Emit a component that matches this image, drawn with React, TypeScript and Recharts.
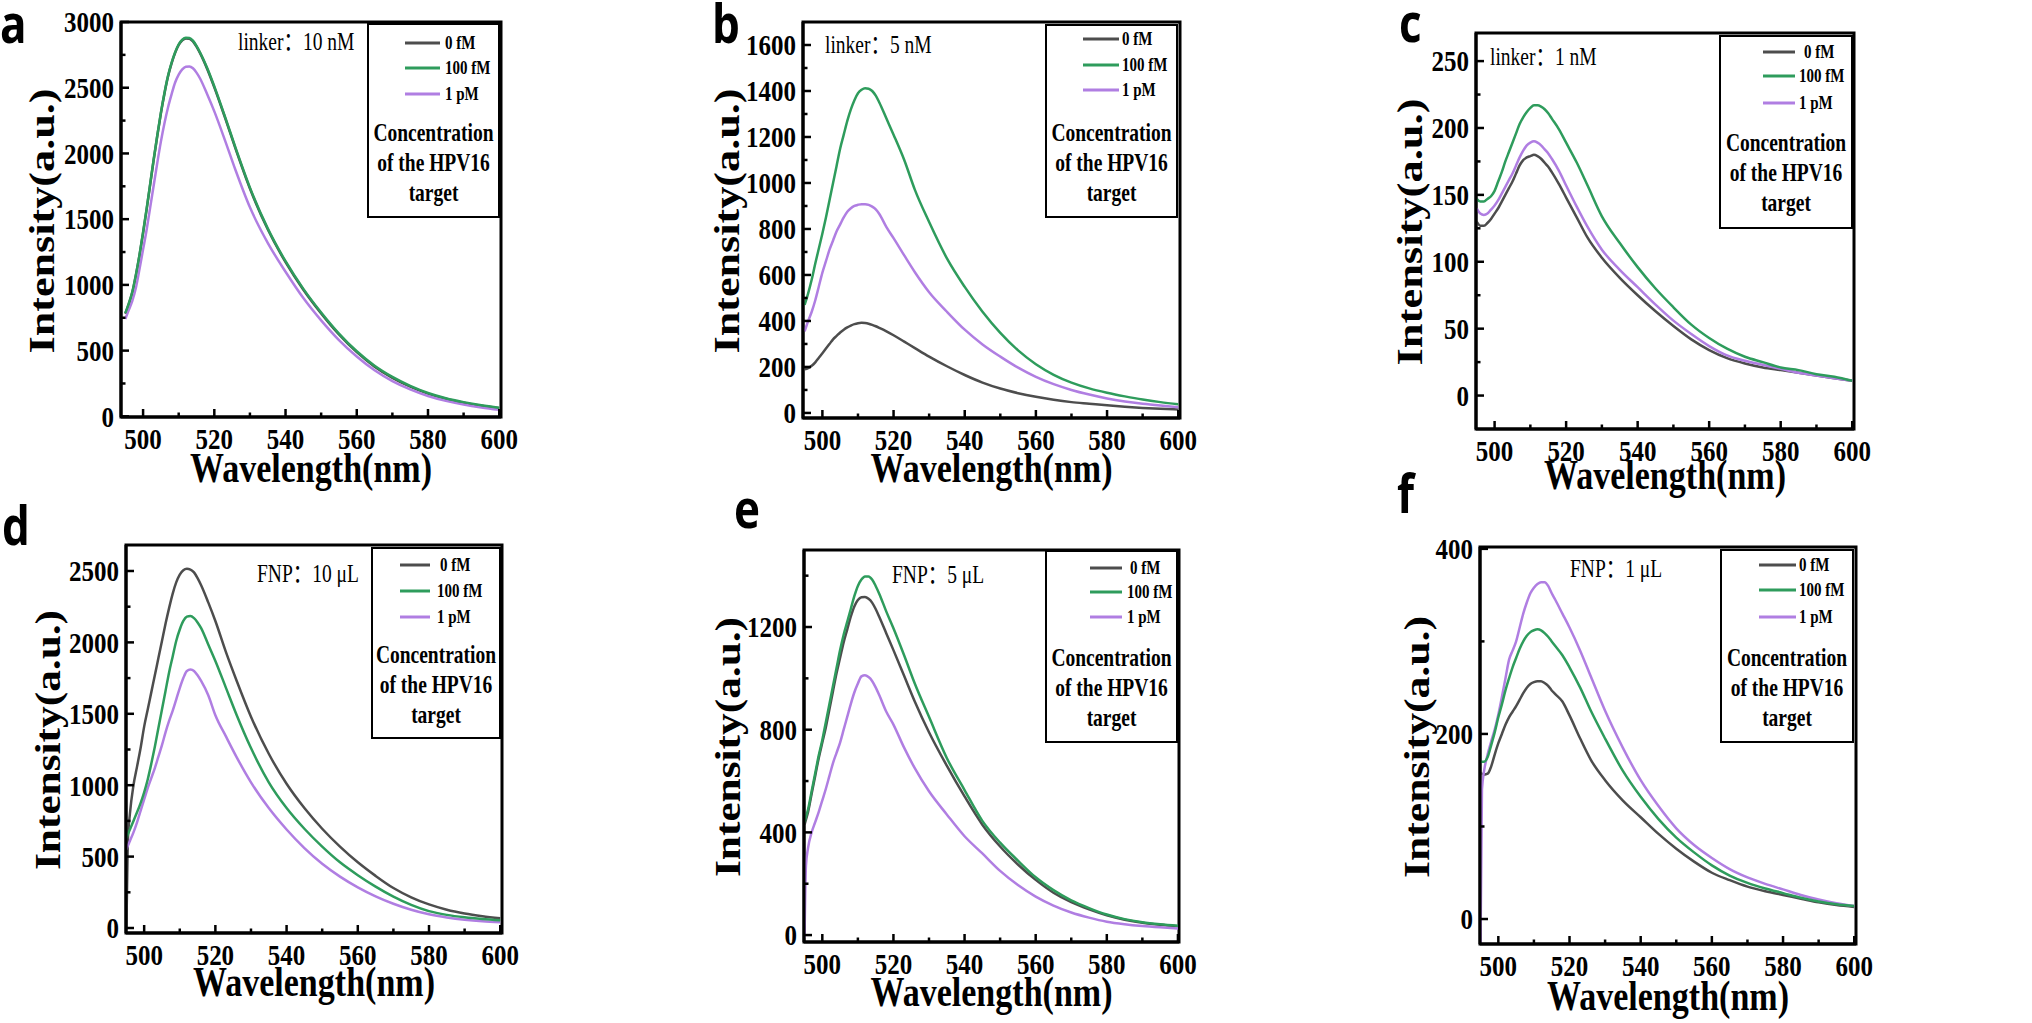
import React from "react";
import { LineChart, Line, XAxis, YAxis, ReferenceArea } from "recharts";

// wavelengths (nm) of the linker series, panels a-c
const WL = [
  495, 496, 497, 498, 499, 500, 501, 502, 503, 504, 505, 506, 507, 508, 509, 510, 511, 512, 513, 514, 515, 516,
  518, 520, 523, 526, 530, 535, 540, 545, 550, 555, 560, 565, 570, 575, 580, 585, 590, 595, 600,
];
// wavelengths of the FNP series, panels d-f (extra point at the filter edge)
const WL_FNP = [
  495, 495.4, 496, 497, 498, 499, 500, 501, 502, 503, 504, 505, 506, 507, 508, 509, 510, 511, 512, 513, 514, 515, 516,
  518, 520, 523, 526, 530, 535, 540, 545, 550, 555, 560, 565, 570, 575, 580, 585, 590, 595, 600,
];

const SERIES_NAMES = ["0 fM", "100 fM", "1 pM"];
const COLORS = ["#4d4d4d", "#2e9c5c", "#b07ee2"];

// a: linker 10 nM
const A_0FM = [780, 855, 945, 1075, 1225, 1395, 1575, 1765, 1955, 2135, 2305, 2455, 2585, 2685, 2765, 2825, 2860, 2875, 2873, 2853, 2813, 2763, 2643, 2503, 2273, 2033, 1733, 1423, 1173, 963, 783, 623, 488, 378, 293, 226, 173, 134, 104, 80, 62];
const A_100FM = [785, 860, 950, 1080, 1230, 1400, 1580, 1770, 1960, 2140, 2310, 2460, 2590, 2690, 2770, 2830, 2865, 2880, 2878, 2858, 2818, 2768, 2650, 2510, 2280, 2040, 1740, 1430, 1180, 970, 790, 630, 495, 385, 300, 232, 178, 138, 108, 84, 65];
const A_1PM = [740, 810, 880, 980, 1120, 1270, 1420, 1590, 1760, 1930, 2090, 2230, 2350, 2450, 2540, 2600, 2640, 2660, 2662, 2648, 2615, 2570, 2450, 2320, 2100, 1870, 1590, 1320, 1100, 900, 730, 580, 455, 350, 268, 205, 155, 118, 90, 68, 50];

// b: linker 5 nM
const B_0FM = [190, 195, 205, 220, 240, 260, 280, 300, 320, 335, 350, 362, 372, 380, 386, 390, 392, 391, 388, 383, 377, 370, 355, 338, 310, 282, 245, 203, 165, 132, 106, 86, 70, 57, 47, 40, 33, 27, 22, 18, 15];
const B_100FM = [470, 520, 580, 650, 715, 780, 850, 925, 1000, 1075, 1150, 1210, 1270, 1320, 1360, 1390, 1405, 1412, 1410, 1400, 1380, 1350, 1280, 1210, 1100, 970, 830, 672, 548, 440, 348, 272, 212, 166, 132, 107, 88, 72, 58, 47, 38];
const B_1PM = [355, 400, 440, 490, 550, 610, 660, 710, 750, 790, 820, 850, 875, 890, 900, 905, 908, 908, 905, 897, 885, 865, 808, 760, 685, 612, 525, 440, 362, 298, 245, 197, 157, 125, 100, 80, 63, 50, 40, 32, 25];

// c: linker 1 nM
const C_0FM = [130, 127, 127, 129, 132, 136, 140, 145, 150, 155, 160, 166, 172, 176, 178, 179, 180, 179, 177, 174, 171, 167, 158, 148, 133, 118, 103, 88, 75, 63, 52, 42, 34, 28, 24, 21, 19, 17, 15, 13, 11];
const C_100FM = [147, 145, 145, 147, 149, 153, 160, 167, 175, 182, 189, 196, 203, 208, 212, 215, 217, 217, 216, 214, 211, 207, 199, 189, 174, 157, 134, 114, 96, 80, 66, 53, 43, 35, 29, 25, 21, 19, 16, 14, 11];
const C_1PM = [140, 136, 135, 136, 139, 142, 146, 151, 156, 161, 166, 172, 178, 183, 187, 189, 190, 189, 187, 184, 181, 177, 168, 157, 141, 126, 109, 94, 81, 68, 56, 46, 37, 30, 26, 23, 20, 17, 15, 13, 11];

// d: FNP 10 uL
const D_0FM = [-10, 600, 800, 1000, 1130, 1260, 1410, 1530, 1650, 1770, 1890, 2010, 2130, 2240, 2340, 2420, 2475, 2505, 2515, 2510, 2490, 2450, 2400, 2280, 2150, 1930, 1730, 1480, 1220, 1010, 840, 695, 570, 460, 365, 280, 215, 165, 128, 102, 83, 68];
const D_100FM = [630, 655, 690, 750, 810, 875, 950, 1040, 1150, 1270, 1400, 1530, 1660, 1790, 1900, 2010, 2090, 2150, 2180, 2185, 2170, 2140, 2100, 1985, 1870, 1680, 1490, 1260, 1020, 840, 695, 570, 460, 370, 290, 220, 162, 118, 92, 75, 63, 54];
const D_1PM = [550, 575, 610, 670, 740, 820, 900, 980, 1050, 1120, 1200, 1280, 1370, 1450, 1520, 1600, 1680, 1750, 1800, 1810, 1800, 1770, 1730, 1630, 1490, 1340, 1195, 1020, 840, 690, 560, 450, 360, 285, 222, 170, 128, 96, 74, 58, 47, 40];

// e: FNP 5 uL
const E_0FM = [430, 450, 480, 550, 620, 690, 750, 810, 880, 950, 1020, 1080, 1140, 1190, 1240, 1280, 1305, 1316, 1317, 1310, 1295, 1270, 1240, 1175, 1110, 1010, 910, 790, 660, 540, 430, 345, 275, 215, 165, 128, 100, 77, 60, 48, 40, 34];
const E_100FM = [440, 460, 490, 560, 630, 700, 760, 830, 900, 970, 1040, 1110, 1170, 1220, 1270, 1320, 1360, 1385, 1397, 1397, 1385, 1360, 1330, 1260, 1195, 1090, 980, 850, 690, 565, 445, 360, 290, 225, 175, 135, 105, 80, 62, 50, 42, 36];
const E_1PM = [-10, 270, 340, 400, 440, 480, 525, 570, 620, 670, 710, 750, 800, 850, 900, 945, 980, 1008, 1012, 1005, 990, 965, 935, 870, 820, 730, 650, 560, 470, 385, 318, 250, 195, 150, 115, 88, 68, 52, 42, 35, 30, 26];

// f: FNP 1 uL
const F_0FM = [158, 157, 156, 157, 165, 178, 190, 200, 210, 218, 224, 230, 237, 244, 250, 254, 256, 257, 257, 255, 252, 247, 243, 235, 220, 195, 172, 150, 128, 110, 92, 76, 62, 50, 42, 35, 30, 26, 22, 18, 15, 13];
const F_100FM = [170, 170, 170, 175, 188, 202, 218, 232, 247, 260, 272, 282, 292, 300, 306, 310, 312, 313, 312, 309, 305, 300, 295, 285, 272, 250, 225, 195, 160, 132, 108, 88, 72, 58, 47, 39, 33, 28, 23, 19, 16, 14];
const F_1PM = [-25, 140, 160, 178, 192, 205, 221, 240, 260, 280, 290, 300, 315, 330, 342, 352, 358, 362, 364, 364, 360, 352, 345, 330, 315, 290, 262, 225, 185, 150, 122, 98, 80, 66, 54, 45, 38, 32, 26, 21, 17, 14];

const X_MAJOR = [500, 520, 540, 560, 580, 600];
const X_MINOR = [510, 530, 550, 570, 590];

const Y_MAJOR_A = [0, 500, 1000, 1500, 2000, 2500, 3000];
const Y_MAJOR_B = [0, 200, 400, 600, 800, 1000, 1200, 1400, 1600];
const Y_MAJOR_C = [0, 50, 100, 150, 200, 250];
const Y_MAJOR_D = [0, 500, 1000, 1500, 2000, 2500];
const Y_MAJOR_E = [0, 400, 800, 1200];
const Y_MAJOR_F = [0, 200, 400];

const NOTES = ["linker：10 nM", "linker：5 nM", "linker：1 nM", "FNP：10 μL", "FNP：5 μL", "FNP：1 μL"];

const SERIF = "'Liberation Serif','Times New Roman','Noto Sans CJK SC',serif";
const SANS = "'Open Sans','Liberation Sans',sans-serif";

const Y_W = 80;
const X_H = 60;
const M_T = 20;
const M_R = 30;
const TICK_GAP = 7;

type Legend = {
  box: [number, number, number, number];
  rows: number[];
  line: [number, number];
  text: number;
  zeroPad: number;
  conc: number[];
};

type Panel = {
  id: string;
  wl: number[];
  series: number[][];
  note: string;
  yMajor: number[];
  yMinorStep: number;
  plot: [number, number, number, number];
  xDomain: [number, number];
  yDomain: [number, number];
  letter: [number, number];
  notePos: [number, number];
  yLabel: [number, number, number];
  xLabelBase: number;
  legend: Legend;
};

const PANELS: Panel[] = [
  {
    id: "a", wl: WL, series: [A_0FM, A_100FM, A_1PM], note: NOTES[0], yMajor: Y_MAJOR_A, yMinorStep: 250,
    plot: [121, 22, 501, 417], xDomain: [493.8, 600.5], yDomain: [-5, 3000],
    letter: [0, 43], notePos: [238, 50], yLabel: [42, 221, 265], xLabelBase: 482,
    legend: { box: [368, 24, 131, 193], rows: [43, 68, 94], line: [405, 440], text: 445, zeroPad: 0, conc: [133, 163, 193] },
  },
  {
    id: "b", wl: WL, series: [B_0FM, B_100FM, B_1PM], note: NOTES[1], yMajor: Y_MAJOR_B, yMinorStep: 100,
    plot: [803, 22, 1180, 418], xDomain: [494.55, 600.5], yDomain: [-22, 1700],
    letter: [712, 43], notePos: [825, 53], yLabel: [727, 221, 265], xLabelBase: 482,
    legend: { box: [1046, 25, 131, 192], rows: [39, 65, 90], line: [1083, 1119], text: 1122, zeroPad: 0, conc: [133, 163, 193] },
  },
  {
    id: "c", wl: WL, series: [C_0FM, C_100FM, C_1PM], note: NOTES[2], yMajor: Y_MAJOR_C, yMinorStep: 25,
    plot: [1476, 33, 1854, 429], xDomain: [494.8, 600.5], yDomain: [-25, 271],
    letter: [1399, 42], notePos: [1490, 65], yLabel: [1410, 232, 267], xLabelBase: 489,
    legend: { box: [1720, 36, 132, 192], rows: [52, 76, 103], line: [1763, 1795], text: 1799, zeroPad: 5, conc: [143, 173, 203] },
  },
  {
    id: "d", wl: WL_FNP, series: [D_0FM, D_100FM, D_1PM], note: NOTES[3], yMajor: Y_MAJOR_D, yMinorStep: 250,
    plot: [126, 545, 502, 933], xDomain: [494.9, 600.5], yDomain: [-35, 2682],
    letter: [2, 545], notePos: [257, 582], yLabel: [48, 740, 260], xLabelBase: 996,
    legend: { box: [372, 548, 128, 190], rows: [565, 591, 617], line: [400, 430], text: 437, zeroPad: 3, conc: [655, 685, 715] },
  },
  {
    id: "e", wl: WL_FNP, series: [E_0FM, E_100FM, E_1PM], note: NOTES[4], yMajor: Y_MAJOR_E, yMinorStep: 200,
    plot: [804, 550, 1179, 942], xDomain: [494.85, 600.3], yDomain: [-27, 1500],
    letter: [734, 528], notePos: [892, 583], yLabel: [728, 747, 260], xLabelBase: 1006,
    legend: { box: [1046, 551, 131, 191], rows: [568, 592, 617], line: [1090, 1122], text: 1127, zeroPad: 3, conc: [658, 688, 718] },
  },
  {
    id: "f", wl: WL_FNP, series: [F_0FM, F_100FM, F_1PM], note: NOTES[5], yMajor: Y_MAJOR_F, yMinorStep: 100,
    plot: [1480, 547, 1856, 944], xDomain: [494.85, 600.5], yDomain: [-27, 402],
    letter: [1397, 513], notePos: [1570, 577], yLabel: [1417, 747, 262], xLabelBase: 1010,
    legend: { box: [1721, 550, 132, 192], rows: [565, 590, 617], line: [1759, 1796], text: 1799, zeroPad: 0, conc: [658, 688, 718] },
  },
];

// major ticks plus half-way minor ticks that stay inside the domain
function withMinor(major: number[], step: number, top: number) {
  const out: number[] = [];
  major.forEach((v) => {
    out.push(v);
    if (v + step < top - 1) out.push(v + step);
  });
  return out;
}

function YTick(props: any) {
  const { x, y, payload, majors } = props;
  const v = payload.value;
  const major = majors.includes(v);
  const ax = x + TICK_GAP;
  return (
    <g>
      <line x1={ax} x2={ax + (major ? 8 : 4.5)} y1={y} y2={y} stroke="#000" strokeWidth={2.5} />
      {major && (
        <text
          transform={`translate(${x} ${y}) scale(1 1.2)`}
          textAnchor="end"
          dominantBaseline="central"
          fontFamily={SERIF}
          fontWeight={700}
          fontSize={25}
          fill="#000"
        >
          {v}
        </text>
      )}
    </g>
  );
}

function XTick(props: any) {
  const { x, y, payload } = props;
  const v = payload.value;
  const major = X_MAJOR.includes(v);
  return (
    <g>
      <line x1={x} x2={x} y1={y} y2={y - (major ? 8 : 4.5)} stroke="#000" strokeWidth={2.5} />
      {major && (
        <text
          transform={`translate(${x} ${y + 22}) scale(1 1.2)`}
          textAnchor="middle"
          dominantBaseline="central"
          fontFamily={SERIF}
          fontWeight={700}
          fontSize={25}
          fill="#000"
        >
          {v}
        </text>
      )}
    </g>
  );
}

function PanelChart({ p }: { p: Panel }) {
  const [l, t, r, b] = p.plot;
  const width = r - l + Y_W + M_R;
  const height = b - t + M_T + X_H;
  const data = p.wl.map((wl, i) => ({ wl, s0: p.series[0][i], s1: p.series[1][i], s2: p.series[2][i] }));
  const yTicks = withMinor(p.yMajor, p.yMinorStep, p.yDomain[1]);
  const xTicks = [...X_MAJOR, ...X_MINOR].sort((m, n) => m - n);
  const axisLine = { stroke: "#000", strokeWidth: 3 };
  return (
    <div style={{ position: "absolute", left: l - Y_W, top: t - M_T, width, height }}>
      <LineChart width={width} height={height} data={data} margin={{ top: M_T, right: M_R, left: 0, bottom: 0 }}>
        <XAxis
          dataKey="wl"
          type="number"
          domain={p.xDomain}
          allowDataOverflow
          ticks={xTicks}
          interval={0}
          tickSize={0}
          tickMargin={0}
          tickLine={false}
          axisLine={axisLine}
          height={X_H}
          tick={(tp: any) => <XTick {...tp} />}
        />
        <YAxis
          type="number"
          domain={p.yDomain}
          allowDataOverflow
          ticks={yTicks}
          interval={0}
          tickSize={0}
          tickMargin={TICK_GAP}
          tickLine={false}
          axisLine={axisLine}
          width={Y_W}
          tick={(tp: any) => <YTick {...tp} majors={p.yMajor} />}
        />
        {/* closed frame round the plot */}
        <ReferenceArea
          x1={p.xDomain[0]}
          x2={p.xDomain[1]}
          y1={p.yDomain[0]}
          y2={p.yDomain[1]}
          fill="none"
          fillOpacity={0}
          stroke="#000"
          strokeWidth={3}
          ifOverflow="visible"
        />
        {[0, 2, 1].map((k) => (
          <Line
            key={k}
            type="monotone"
            dataKey={`s${k}`}
            name={SERIES_NAMES[k]}
            stroke={COLORS[k]}
            strokeWidth={2.5}
            dot={false}
            activeDot={false}
            isAnimationActive={false}
          />
        ))}
      </LineChart>
    </div>
  );
}

function Overlay({ p }: { p: Panel }) {
  const [l, , r] = p.plot;
  const L = p.legend;
  const [bx, by, bw, bh] = L.box;
  return (
    <g fill="#000">
      <text transform={`translate(${p.letter[0]} ${p.letter[1]}) scale(1 1.2)`} fontFamily={SANS} fontWeight={700} fontSize={44}>
        {p.id}
      </text>
      <text transform={`translate(${p.notePos[0]} ${p.notePos[1]}) scale(1 1.28)`} fontFamily={SERIF} fontSize={19.5}>
        {p.note}
      </text>
      <text
        transform={`translate(${p.yLabel[0]} ${p.yLabel[1]}) rotate(-90)`}
        y={12}
        textAnchor="middle"
        textLength={p.yLabel[2]}
        lengthAdjust="spacingAndGlyphs"
        fontFamily={SERIF}
        fontWeight={700}
        fontSize={35}
      >
        Intensity(a.u.)
      </text>
      <text
        transform={`translate(${(l + r) / 2} ${p.xLabelBase}) scale(1 1.25)`}
        textAnchor="middle"
        textLength={242}
        lengthAdjust="spacingAndGlyphs"
        fontFamily={SERIF}
        fontWeight={700}
        fontSize={33.5}
      >
        Wavelength(nm)
      </text>
      <rect x={bx} y={by} width={bw} height={bh} fill="#fff" stroke="#000" strokeWidth={2} />
      {SERIES_NAMES.map((name, k) => (
        <g key={name}>
          <line x1={L.line[0]} x2={L.line[1]} y1={L.rows[k]} y2={L.rows[k]} stroke={COLORS[k]} strokeWidth={3} />
          <text
            transform={`translate(${L.text + (k === 0 ? L.zeroPad : 0)} ${L.rows[k] + 6.3}) scale(1 1.28)`}
            fontFamily={SERIF}
            fontWeight={700}
            fontSize={15}
          >
            {name}
          </text>
        </g>
      ))}
      {["Concentration", "of the HPV16", "target"].map((s, k) => (
        <text
          key={s}
          transform={`translate(${bx + bw / 2} ${L.conc[k] + 8}) scale(1 1.28)`}
          textAnchor="middle"
          fontFamily={SERIF}
          fontWeight={700}
          fontSize={19.5}
        >
          {s}
        </text>
      ))}
    </g>
  );
}

export default function App() {
  return (
    <div style={{ position: "absolute", left: 0, top: 0, width: 2032, height: 1023, background: "#fff", overflow: "hidden" }}>
      {PANELS.map((p) => (
        <PanelChart key={p.id} p={p} />
      ))}
      <svg width={2032} height={1023} style={{ position: "absolute", left: 0, top: 0, pointerEvents: "none" }}>
        {PANELS.map((p) => (
          <Overlay key={p.id} p={p} />
        ))}
      </svg>
    </div>
  );
}
